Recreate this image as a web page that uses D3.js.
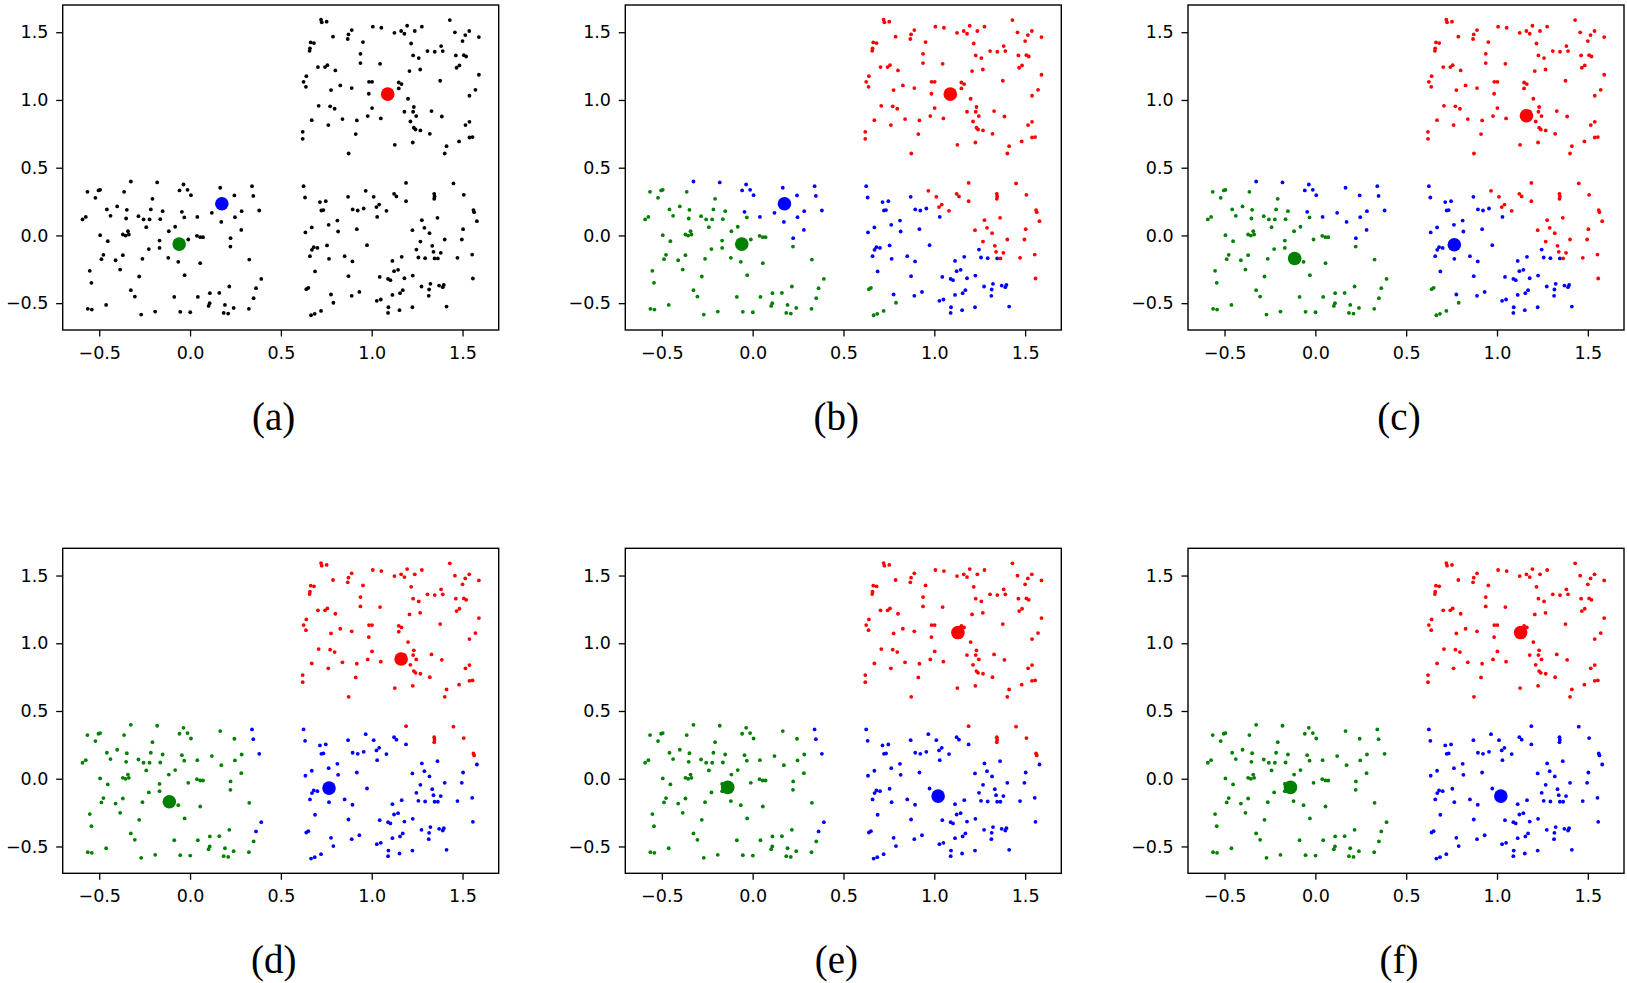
<!DOCTYPE html>
<meta charset="utf-8">
<script src="https://d3js.org/d3.v7.min.js"></script>
<style>
  body { margin: 0; background: #fff; }
</style>
<div id="chart"></div>
<script>

// data points, grouped by the square they fall in
const lowerLeft = [
  [-0.326,0.398],[-0.181,0.391],[-0.036,0.376],[0.166,0.352],[0.341,0.364],
  [-0.565,0.322],[-0.504,0.332],[-0.495,0.337],[-0.363,0.322],[-0.058,0.332],
  [-0.014,0.337],[0.005,0.297],[0.244,0.295],[0.348,0.292],[-0.521,0.278],
  [-0.207,0.270],[-0.458,0.192],[-0.401,0.214],[-0.348,0.189],[-0.216,0.192],
  [-0.151,0.179],[-0.045,0.174],[0.120,0.167],[0.284,0.179],[0.381,0.184],
  [-0.592,0.118],[-0.574,0.137],[-0.438,0.145],[-0.352,0.125],[-0.284,0.142],
  [-0.256,0.118],[-0.223,0.118],[-0.164,0.120],[-0.032,0.133],[0.040,0.137],
  [0.172,0.100],[0.247,0.135],[-0.241,0.061],[-0.117,0.031],[-0.082,0.064],
  [0.282,0.041],[-0.495,0.002],[-0.453,-0.042],[-0.370,0.007],[-0.355,-0.001],
  [-0.342,0.031],[-0.337,0.007],[-0.168,-0.038],[-0.010,-0.030],[0.038,-0.003],
  [0.056,-0.013],[0.071,-0.013],[0.223,-0.020],[-0.168,-0.092],[-0.227,-0.101],
  [0.222,-0.082],
  [-0.477,-0.143],[-0.488,-0.175],[-0.370,-0.146],[-0.410,-0.183],[-0.262,-0.173],
  [-0.120,-0.165],[-0.065,-0.195],[0.056,-0.205],[0.326,-0.178],[-0.552,-0.261],
  [-0.385,-0.252],[-0.543,-0.350],[-0.280,-0.303],[-0.030,-0.293],[0.392,-0.321],
  [-0.326,-0.404],[-0.304,-0.451],[-0.087,-0.454],[0.043,-0.454],[0.109,-0.426],
  [0.161,-0.424],[0.216,-0.377],[0.363,-0.389],[0.350,-0.463],[-0.462,-0.513],
  [-0.563,-0.542],[-0.541,-0.547],[-0.269,-0.584],[-0.192,-0.562],[-0.054,-0.564],
  [0.001,-0.567],[0.102,-0.520],[0.108,-0.500],[0.192,-0.513],[0.240,-0.535],
  [0.185,-0.572],[0.210,-0.577],[0.324,-0.542]
];

const lowerRight = [
  [0.625,0.364],[0.633,0.280],[0.715,0.246],[0.747,0.253],[0.723,0.184],[0.734,0.187],
  [0.870,0.285],[0.967,0.329],[1.011,0.285],[0.895,0.192],[0.923,0.184],[0.956,0.199],
  [1.026,0.209],[1.041,0.228],[1.081,0.182],[1.030,0.137],[1.123,0.307],[1.136,0.288],
  [1.189,0.388],[1.189,0.253],[1.344,0.307],[1.346,0.288],[1.344,0.270],[1.450,0.384],
  [1.507,0.300],[1.560,0.187],[1.564,0.172],[1.579,0.105],[1.276,0.113],[1.362,0.130],
  [0.635,0.022],[0.670,0.059],[0.763,0.078],[0.811,0.110],[0.815,0.029],[0.918,0.046],
  [1.224,0.039],[1.290,0.056],[1.318,0.017],[1.503,0.046],[1.268,-0.045],[1.402,-0.030],
  [1.496,-0.030],[0.681,-0.087],[0.701,-0.092],[0.754,-0.074],[0.974,-0.072],[1.246,-0.104],
  [1.333,-0.077],
  [0.671,-0.106],[0.660,-0.153],[0.765,-0.173],[0.851,-0.153],[0.894,-0.192],[1.114,-0.188],
  [1.165,-0.158],[1.257,-0.163],[1.294,-0.168],[1.340,-0.121],[1.380,-0.128],[1.346,-0.170],
  [1.364,-0.170],[1.472,-0.165],[1.553,-0.141],[0.688,-0.266],[0.872,-0.301],[1.044,-0.306],
  [1.090,-0.321],[1.103,-0.330],[1.123,-0.264],[1.145,-0.254],[1.180,-0.316],[1.226,-0.296],
  [1.557,-0.318],[0.640,-0.397],[0.651,-0.387],[0.776,-0.436],[0.789,-0.497],[0.890,-0.446],
  [0.932,-0.417],[1.028,-0.483],[1.050,-0.473],[1.114,-0.439],[1.156,-0.426],[1.171,-0.404],
  [1.274,-0.377],[1.323,-0.357],[1.316,-0.399],[1.314,-0.446],[1.371,-0.370],[1.391,-0.382],
  [1.397,-0.365],[1.092,-0.530],[1.090,-0.572],[1.153,-0.552],[1.224,-0.530],[1.412,-0.525],
  [0.666,-0.589],[0.686,-0.579],[0.721,-0.557]
];

const upperRight = [
  [0.721,1.592],[0.725,1.573],[0.752,1.578],[1.006,1.541],[1.053,1.533],[0.787,1.467],
  [0.868,1.450],[0.872,1.484],[0.890,1.516],[0.664,1.425],[0.682,1.420],[0.660,1.381],
  [0.658,1.363],[0.952,1.427],[1.125,1.496],[1.162,1.509],[1.180,1.489],[1.195,1.548],
  [1.237,1.509],[1.276,1.541],[1.430,1.590],[1.458,1.499],[1.515,1.479],[1.537,1.509],
  [1.590,1.464],[1.500,1.435],[1.217,1.417],[0.938,1.341],[1.228,1.329],[1.259,1.309],
  [1.307,1.361],[1.347,1.356],[1.382,1.398],[1.391,1.361],[1.463,1.329],[1.507,1.331],
  [1.520,1.321],[0.704,1.243],[0.743,1.243],[0.756,1.257],[0.800,1.218],[0.938,1.272],
  [1.046,1.267],[1.208,1.213],[1.267,1.225],[1.467,1.238],[1.483,1.255],[0.640,1.176],
  [0.625,1.134],[1.590,1.186],[1.377,1.142],[0.827,1.107],[0.638,1.097],[0.890,1.088],
  [0.985,1.134],[1.002,1.134],[1.149,1.129],[1.164,1.117],
  [0.776,1.073],[1.149,1.085],[1.571,1.075],[1.538,1.031],[0.984,1.046],[1.200,1.009],
  [0.708,0.957],[0.771,0.953],[0.796,0.935],[1.002,0.940],[1.232,0.948],[1.228,0.913],
  [1.245,0.881],[1.180,0.913],[1.329,0.918],[1.386,0.878],[0.670,0.851],[0.839,0.859],
  [0.918,0.849],[0.978,0.881],[1.050,0.864],[1.213,0.841],[1.538,0.839],[1.516,0.815],
  [0.761,0.815],[1.232,0.795],[1.241,0.782],[1.268,0.775],[0.620,0.765],[0.620,0.713],
  [0.912,0.748],[1.320,0.750],[1.538,0.723],[1.555,0.726],[1.481,0.694],[1.127,0.669],
  [1.226,0.686],[1.412,0.659],[1.402,0.605],[0.873,0.605]
];

// centroids after each step: [red, blue, green]
const centersX = [[1.088, 0.175, -0.060], [1.162, 0.765, -0.114], [1.130, 1.021, -0.137]];
const centersY = [[1.043, 0.234, -0.064], [0.884, -0.069, -0.170], [1.079, -0.128, -0.064]];
const clusterColors = ["red", "blue", "green"];

const panelLabels = ["(a)", "(b)", "(c)", "(d)", "(e)", "(f)"];
const panelColoring = [null, 0, 0, 1, 1, 2]; // which centroids colour the points
const panelCenters = [0, 0, 1, 1, 2, 2];     // which centroids are drawn
const tickValues = [-0.5, 0.0, 0.5, 1.0, 1.5];

const points = lowerLeft.concat(lowerRight, upperRight);

// layout
const W = 1627, H = 983;
const aw = 436, ah = 325;
const colLeft = [62.7, 625.3, 1188];
const rowTop = [5, 548.3];

const svg = d3.select("#chart").append("svg")
  .attr("width", W).attr("height", H)
  .style("background", "#fff");

// matplotlib style 5% padding around the data
function padded(ext) {
  const m = (ext[1] - ext[0]) * 0.05;
  return [ext[0] - m, ext[1] + m];
}
const x = d3.scaleLinear().domain(padded(d3.extent(points, d => d[0]))).range([0, aw]);
const y = d3.scaleLinear().domain(padded(d3.extent(points, d => d[1]))).range([ah, 0]);

function nearest(p, k) {
  let best = 0, bd = Infinity;
  for (let i = 0; i < 3; i++) {
    const dx = p[0] - centersX[k][i], dy = p[1] - centersY[k][i];
    const d = dx * dx + dy * dy;
    if (d < bd) { bd = d; best = i; }
  }
  return best;
}

panelLabels.forEach(function(label, i) {
  const g = svg.append("g")
    .attr("transform", `translate(${colLeft[i % 3]},${rowTop[Math.floor(i / 3)]})`);

  const col = panelColoring[i];
  g.append("g").selectAll("circle")
    .data(points)
    .join("circle")
      .attr("cx", d => x(d[0]))
      .attr("cy", d => y(d[1]))
      .attr("r", 1.9)
      .attr("fill", d => col === null ? "black" : clusterColors[nearest(d, col)]);

  const k = panelCenters[i];
  g.append("g").selectAll("circle")
    .data([0, 1, 2])
    .join("circle")
      .attr("cx", c => x(centersX[k][c]))
      .attr("cy", c => y(centersY[k][c]))
      .attr("r", 6.8)
      .attr("fill", c => clusterColors[c]);

  // axes
  const xa = g.append("g")
    .attr("transform", `translate(0,${ah})`)
    .call(d3.axisBottom(x).tickValues(tickValues).tickFormat(d3.format(".1f"))
      .tickSize(6.5).tickPadding(10));
  const ya = g.append("g")
    .call(d3.axisLeft(y).tickValues(tickValues).tickFormat(d3.format(".1f"))
      .tickSize(6.5).tickPadding(7.8));
  [xa, ya].forEach(a => {
    a.select(".domain").remove();
    a.selectAll("line").attr("stroke", "black").attr("stroke-width", 1.3);
    a.selectAll("text")
      .attr("fill", "black")
      .style("font-family", "DejaVu Sans")
      .style("font-size", "17.5px");
  });

  g.append("rect")
    .attr("width", aw).attr("height", ah)
    .attr("fill", "none")
    .attr("stroke", "black")
    .attr("stroke-width", 1.4);

  g.append("text")
    .attr("x", aw / 2 - 7)
    .attr("y", 425)
    .attr("text-anchor", "middle")
    .style("font-family", "Liberation Serif")
    .style("font-size", "39px")
    .text(label);
});

</script>
